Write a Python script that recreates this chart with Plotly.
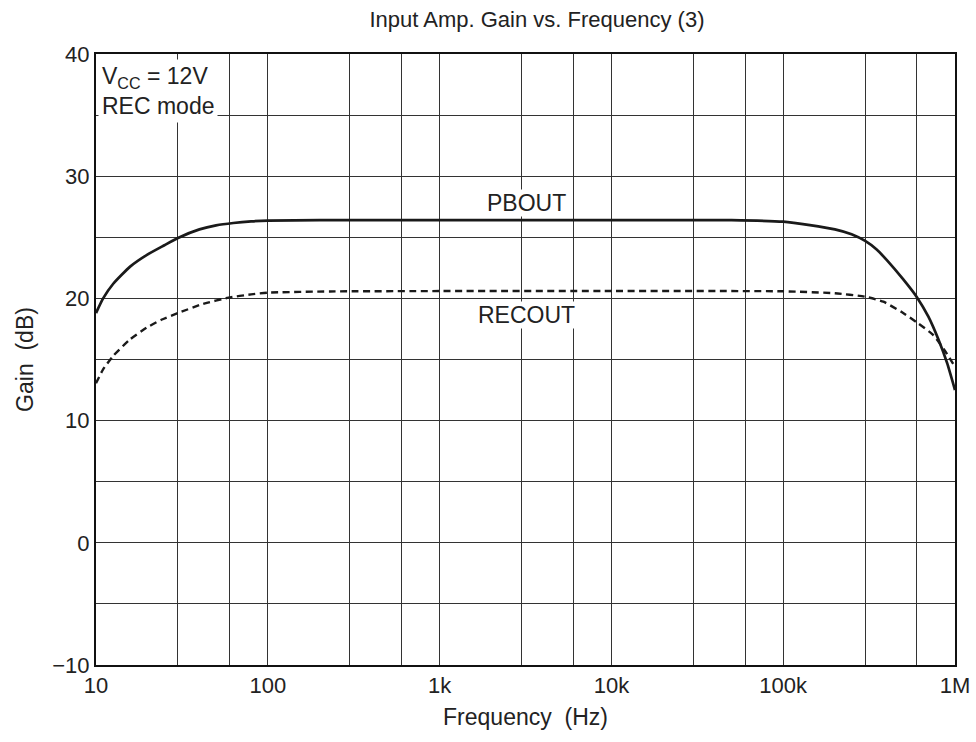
import plotly.graph_objects as go

pb_freq = [10, 11, 12.6, 15.8, 20, 25, 30, 40, 50, 63, 80, 100, 200, 1000, 10000, 50000,
           100000, 143000, 200000, 250000, 300000, 350000, 400000, 500000, 600000, 700000,
           800000, 900000, 1000000]
pbout = [18.8, 20.0, 21.2, 22.6, 23.6, 24.35, 24.95, 25.65, 25.98, 26.17, 26.3, 26.37, 26.4, 26.4, 26.4, 26.4,
         26.28, 26.0, 25.65, 25.25, 24.7, 24.0, 23.15, 21.55, 20.1, 18.5, 16.65, 14.7, 12.5]

rec_freq = [10, 11, 12.6, 15.8, 19.7, 24, 30, 42, 59, 80, 100, 230, 1000, 10000, 100000,
            200000, 300000, 383000, 487000, 611000, 748000, 875000, 1000000]
recout = [13.05, 14.2, 15.3, 16.65, 17.6, 18.25, 18.8, 19.55, 20.06, 20.33, 20.47, 20.57, 20.6, 20.6, 20.58,
          20.42, 20.14, 19.73, 18.9, 17.96, 17.0, 15.7, 14.4]

x_tickvals = [10, 100, 1000, 10000, 100000, 1000000]
x_ticktext = ["10", "100", "1k", "10k", "100k", "1M"]
x_minor = [30, 60, 300, 600, 3000, 6000, 30000, 60000, 300000, 600000]
y_tickvals = [-10, 0, 10, 20, 30, 40]
y_ticktext = ["\u221210", "0", "10", "20", "30", "40"]

FONT = "Liberation Sans, Arial, sans-serif"
TXT = "#222222"
GRID = "#333333"

fig = go.Figure()
fig.add_trace(go.Scatter(x=pb_freq, y=pbout, mode="lines", name="PBOUT",
                         line=dict(color="#1a1a1a", width=2.7, shape="spline", smoothing=0.5)))
fig.add_trace(go.Scatter(x=rec_freq, y=recout, mode="lines", name="RECOUT",
                         line=dict(color="#1a1a1a", width=2.4, dash="7px,4.5px", shape="spline", smoothing=0.5)))

fig.update_layout(
    width=976, height=742,
    margin=dict(l=96, r=21, t=54, b=77),
    paper_bgcolor="white", plot_bgcolor="white",
    showlegend=False,
    font=dict(family=FONT, size=22, color=TXT),
    title=dict(text="Input Amp. Gain vs. Frequency (3)", x=0.5502, xanchor="center",
               y=0.9745, yanchor="middle", font=dict(size=22, family=FONT, color=TXT)),
)
fig.update_xaxes(
    type="log", range=[1, 6], tickmode="array", tickvals=x_tickvals, ticktext=x_ticktext,
    automargin=False,
    showgrid=True, gridcolor=GRID, gridwidth=1, ticks="", zeroline=False,
    showline=True, linecolor="#111111", linewidth=2, mirror=True,
    minor=dict(tickmode="array", tickvals=x_minor, showgrid=True, gridcolor=GRID, gridwidth=1, ticks=""),
    tickfont=dict(size=22, family=FONT, color=TXT),
    title=dict(text="Frequency  (Hz)", font=dict(size=23, family=FONT, color=TXT), standoff=11),
)
fig.update_yaxes(
    range=[-10, 40], tickmode="array", tickvals=y_tickvals, ticktext=y_ticktext,
    automargin=False,
    showgrid=True, gridcolor=GRID, gridwidth=1, ticks="", zeroline=False,
    showline=True, linecolor="#111111", linewidth=2, mirror=True,
    minor=dict(dtick=5, showgrid=True, gridcolor=GRID, gridwidth=1, ticks=""),
    tickfont=dict(size=22, family=FONT, color=TXT),
    title=dict(text="Gain  (dB)", font=dict(size=23, family=FONT, color=TXT), standoff=12),
)

fig.add_annotation(x=0, y=1, xref="paper", yref="paper", xanchor="left", yanchor="top",
                   xshift=2, yshift=-5,
                   text="V<sub>CC</sub> = 12V<br>REC mode", align="left", showarrow=False,
                   bgcolor="white", font=dict(size=23, family=FONT, color=TXT),
                   borderpad=3)
fig.add_annotation(x=3.505, y=27.8, xref="x", yref="y", text="PBOUT", showarrow=False,
                   bgcolor="white", font=dict(size=23, family=FONT, color=TXT), borderpad=0)
fig.add_annotation(x=3.505, y=18.64, xref="x", yref="y", text="RECOUT", showarrow=False,
                   bgcolor="white", font=dict(size=23, family=FONT, color=TXT), borderpad=0)

fig.write_html("out.html", config={"displayModeBar": False},
               post_script="document.body.style.margin='0';document.body.style.overflow='hidden';")
